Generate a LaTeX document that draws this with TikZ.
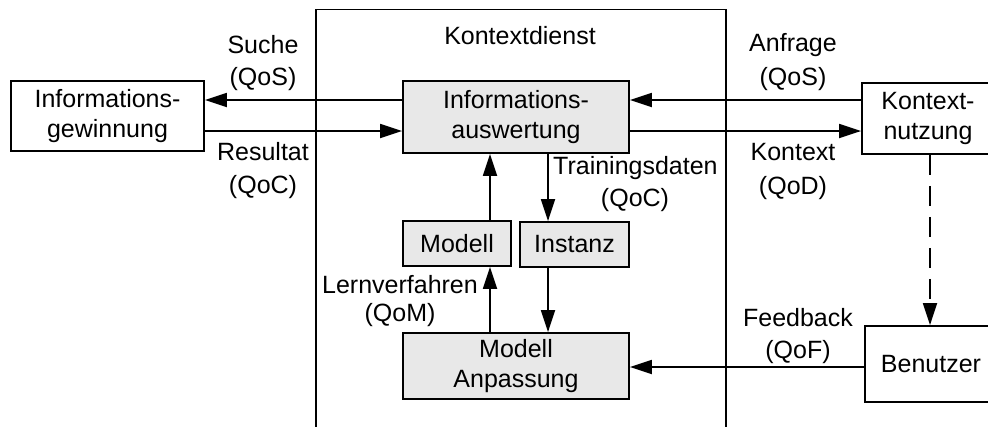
\documentclass[tikz,border=0pt]{standalone}
\usepackage{fontspec}
\setmainfont{Liberation Sans}
\usetikzlibrary{arrows.meta}
\begin{document}
\begin{tikzpicture}[x=1pt,y=-1pt,
  every node/.style={font=\fontsize{25}{30}\selectfont, align=center, inner sep=0pt},
  box/.style={draw, line width=1.8pt, minimum width=#1},
  gbox/.style={box=#1, fill=gray!18},
  conn/.style={line width=1.8pt, -{Triangle[length=22pt,width=14pt]}},
  lbl/.style={}
]
\useasboundingbox (0,0) rectangle (988,426);
\clip (0,0) rectangle (988,426);

% service frame
\draw[line width=1.8pt] (316,440) -- (316,9.5) -- (726,9.5) -- (726,440);
\node[lbl] (kdl) at (520,36) {Kontextdienst};

% boxes
\node[box=193, minimum height=70] (ig) at (107.5,116) {Informations-\\gewinnung};
\node[gbox=226, minimum height=72] (ia) at (516,117) {Informations-\\auswertung};
\node[box=132, minimum height=71] (kn) at (928,118.5) {Kontext-\\nutzung};
\node[box=132, minimum height=76] (bn) at (931,364) {Benutzer};
\node[gbox=108, minimum height=45] (mo) at (457,243.5) {Modell};
\node[gbox=109, minimum height=45] (in) at (574.5,244.5) {Instanz};
\node[gbox=226, minimum height=66] (ma) at (516,366) {Modell\\Anpassung};

% horizontal flows
\draw[conn] (kn.west |- 0,100) -- (ia.east |- 0,100);
\draw[conn] (ia.west |- 0,100) -- (ig.east |- 0,100);
\draw[conn] (ig.east |- 0,131) -- (ia.west |- 0,131);
\draw[conn] (ia.east |- 0,131) -- (kn.west |- 0,131);
\draw[conn] (bn.west |- 0,367) -- (ma.east |- 0,367);

% vertical flows inside the service
\draw[conn] (mo.north -| 490,0) -- (ia.south -| 490,0);
\draw[conn] (ma.north -| 490,0) -- (mo.south -| 490,0);
\draw[conn] (ia.south -| 548,0) -- (in.north -| 548,0);
\draw[conn] (in.south -| 548,0) -- (ma.north -| 548,0);

% user feedback loop
\draw[conn, dash pattern=on 20pt off 11pt] (kn.south -| 930,0) -- (bn.north -| 930,0);

% labels
\node (l1) at (263,45) {Suche};
\node (l2) at (263,79) {(QoS)};
\node (l3) at (263,152) {Resultat};
\node (l4) at (263,187) {(QoC)};
\node (l5) at (793,45) {Anfrage};
\node (l6) at (793,79) {(QoS)};
\node (l7) at (793,152) {Kontext};
\node (l8) at (793,188) {(QoD)};
\node[anchor=west] (l9) at (553,168) {Trainingsdaten};
\node (l10) at (635,200) {(QoC)};
\node[anchor=east] (l11) at (478,285) {Lernverfahren};
\node (l12) at (400,315) {(QoM)};
\node (l13) at (798,318) {Feedback};
\node (l14) at (798,352) {(QoF)};
\end{tikzpicture}
\end{document}
